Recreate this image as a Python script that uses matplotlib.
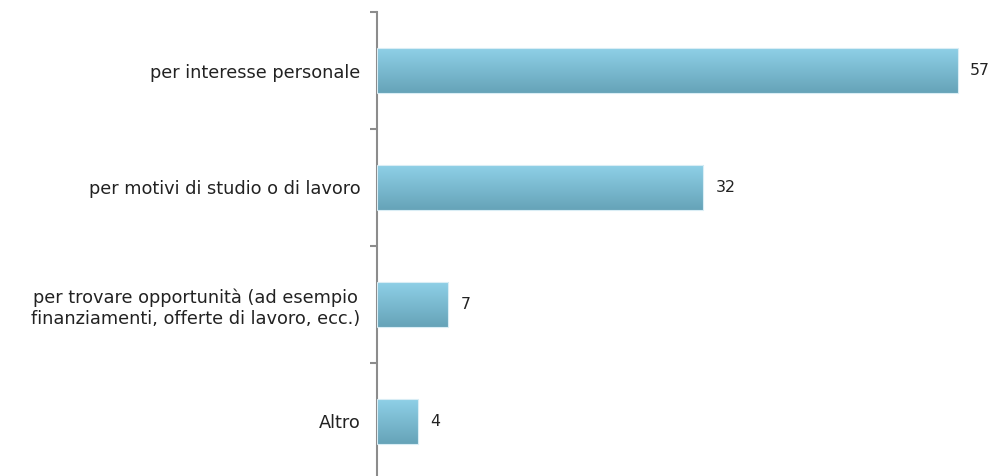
import matplotlib
matplotlib.use("Agg")
import matplotlib.pyplot as plt
import numpy as np

categories = ["per interesse personale",
              "per motivi di studio o di lavoro",
              "per trovare opportunità (ad esempio\nfinanziamenti, offerte di lavoro, ecc.)",
              "Altro"]
values = [57, 32, 7, 4]

W, H = 995, 476
fig = plt.figure(figsize=(W/100, H/100), dpi=100)
ax_left, ax_top, ax_bottom = 377, 12, 480
ax = fig.add_axes([ax_left/W, 1 - ax_bottom/H, (W - ax_left)/W, (ax_bottom - ax_top)/H])

n = len(categories)
ypos = np.arange(n)
bar_h = 0.38
xmax = (W - ax_left) / 10.19

top_c = np.array([142, 208, 231]) / 255
bot_c = np.array([102, 163, 184]) / 255
t = np.linspace(0, 1, 64)[:, None]
grad = (top_c[None, :] * (1 - t) + bot_c[None, :] * t)[:, None, :]

for y, v in zip(ypos, values):
    ax.imshow(grad, extent=[0, v, y + bar_h/2, y - bar_h/2], aspect='auto',
              interpolation='bicubic', zorder=2)
    ax.add_patch(plt.Rectangle((0, y - bar_h/2), v, bar_h, fill=False,
                               edgecolor=(0.85, 0.93, 0.96), lw=0.8, zorder=3))
    ax.text(v + 1.2, y, str(v), va='center', ha='left', fontsize=11.3, color='#222222')

ax.set_xlim(0, xmax)
ax.set_ylim(n - 0.5, -0.5)

ax.set_yticks(ypos)
ax.set_yticklabels(categories, fontsize=12.8, color='#222222', multialignment='center',
                   linespacing=1.2)
ax.tick_params(axis='y', which='major', length=0, pad=12)
ax.set_yticks(np.arange(n + 1) - 0.5, minor=True)
ax.tick_params(axis='y', which='minor', length=5, width=1.5, color='#8c8c8c', direction='out')
ax.set_xticks([])

for s in ['top', 'right', 'bottom']:
    ax.spines[s].set_visible(False)
ax.spines['left'].set_color('#8c8c8c')
ax.spines['left'].set_linewidth(1.5)

fig.savefig("out.png", dpi=100)
